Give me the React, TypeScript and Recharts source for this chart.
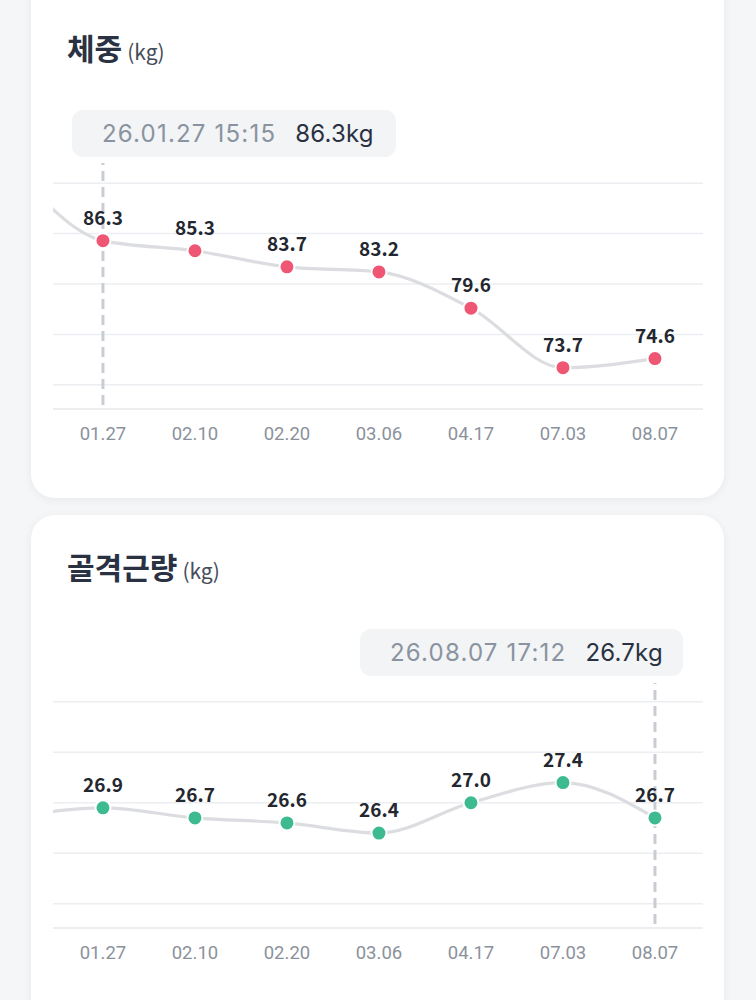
import React from 'react';
import { LineChart, Line, XAxis, YAxis, CartesianGrid, ReferenceLine, LabelList } from 'recharts';

const dates = ['01.27', '02.10', '02.20', '03.06', '04.17', '07.03', '08.07'];

const weightValues = [86.3, 85.3, 83.7, 83.2, 79.6, 73.7, 74.6];
const weightPrevious = 93.9; // earlier measurement, scrolled out of view
const weightTicks = [72, 77, 82, 87, 92];
const weightDomain: [number, number] = [69.6, 94.3];

const muscleValues = [26.9, 26.7, 26.6, 26.4, 27.0, 27.4, 26.7];
const musclePrevious = 26.7;
const muscleTicks = [25, 26, 27, 28, 29];
const muscleDomain: [number, number] = [24.52, 29.43];

const FONT = '"Noto Sans CJK KR", "Noto Sans", sans-serif';
const TIP_FONT = 'Inter, Roboto, "Noto Sans", sans-serif';
const TICK_FONT = 'Roboto, "Noto Sans", sans-serif';

const CHART_H = 460;
const PLOT_TOP = 160;
const X_AXIS_H = 30;

function buildData(prev: number, values: number[]) {
  return [{ i: -1, v: prev }, ...values.map((v, i) => ({ i, v }))];
}

const makeDot = (color: string) => (props: any) => {
  const { cx, cy, payload, index } = props;
  if (!payload || payload.i < 0) return <g key={`d${index}`} />;
  return <circle key={`d${index}`} cx={cx} cy={cy} r={7.5} fill={color} stroke="#ffffff" strokeWidth={2} />;
};

const makeLabel = (data: { i: number; v: number }[]) => (props: any) => {
  const { x, y, index } = props;
  const d = data[index];
  if (!d || d.i < 0) return null;
  return (
    <text
      key={`l${index}`}
      x={x}
      y={y - 16}
      textAnchor="middle"
      fontFamily={FONT}
      fontWeight={700}
      fontSize={19}
      fill="#23272f"
    >
      {d.v.toFixed(1)}
    </text>
  );
};

interface ChartProps {
  data: { i: number; v: number }[];
  color: string;
  ticks: number[];
  domain: [number, number];
  cursorIndex: number;
  top: number;
  bottomMargin: number;
}

function TrendChart({ data, color, ticks, domain, cursorIndex, top, bottomMargin }: ChartProps) {
  const span = domain[1] - domain[0];
  const plotH = CHART_H - PLOT_TOP - bottomMargin - X_AXIS_H;
  const gridYs = ticks.map((t) => PLOT_TOP + plotH * (1 - (t - domain[0]) / span));
  return (
    <div style={{ position: 'absolute', left: 0, top, width: 756, height: CHART_H }}>
      <LineChart width={756} height={CHART_H} data={data} margin={{ top: PLOT_TOP, right: 53, bottom: bottomMargin, left: 53 }}>
        <CartesianGrid
          vertical={false}
          stroke="#eceef1"
          strokeWidth={1.5}
          horizontalPoints={gridYs}
        />
        <XAxis
          dataKey="i"
          type="number"
          domain={[-0.543, 6.522]}
          allowDataOverflow
          ticks={[0, 1, 2, 3, 4, 5, 6]}
          tickFormatter={(v: number) => dates[v] ?? ''}
          axisLine={{ stroke: '#e6e8eb', strokeWidth: 1.5 }}
          tickLine={false}
          tickMargin={12}
          height={X_AXIS_H}
          tick={{ fill: '#8b919b', fontSize: 18.5, fontFamily: TICK_FONT }}
        />
        <YAxis hide width={0} domain={domain} ticks={ticks} allowDataOverflow type="number" />
        <ReferenceLine
          segment={[
            { x: cursorIndex, y: domain[0] + span * 0.016 },
            { x: cursorIndex, y: domain[1] - span * 0.012 },
          ]}
          stroke="#c9cdd3"
          strokeWidth={3}
          strokeDasharray="10 6"
          ifOverflow="visible"
        />
        <Line
          type="monotone"
          dataKey="v"
          stroke="#dcdde1"
          strokeWidth={3.2}
          dot={makeDot(color)}
          activeDot={false}
          isAnimationActive={false}
        >
          <LabelList dataKey="v" content={makeLabel(data)} />
        </Line>
      </LineChart>
    </div>
  );
}

function Title({ top, main }: { top: number; main: string }) {
  return (
    <div style={{ position: 'absolute', left: 67, top, fontFamily: FONT, color: '#2a3142', whiteSpace: 'nowrap' }}>
      <span style={{ fontSize: 30, fontWeight: 700 }}>{main}</span>
      <span style={{ fontSize: 21, fontWeight: 400, color: '#454c5a', marginLeft: 5 }}>(kg)</span>
    </div>
  );
}

function TipBox({ left, top, width, time, value }: { left: number; top: number; width: number; time: string; value: string }) {
  return (
    <div
      style={{
        position: 'absolute',
        left,
        top,
        width,
        height: 47,
        borderRadius: 11,
        background: '#f2f4f6',
        fontFamily: TIP_FONT,
        fontSize: 24,
        lineHeight: '47px',
        boxSizing: 'border-box',
        paddingLeft: 30,
        whiteSpace: 'nowrap',
      }}
    >
      <span style={{ color: '#8a93a0', letterSpacing: 1.2 }}>{time}</span>
      <span style={{ color: '#2a3142', marginLeft: 19, letterSpacing: 0.2 }}>{value}</span>
    </div>
  );
}

export default function App() {
  const weightData = buildData(weightPrevious, weightValues);
  const muscleData = buildData(musclePrevious, muscleValues);
  return (
    <div style={{ position: 'absolute', left: 0, top: 0, width: 756, height: 1000, background: '#f5f6f8', overflow: 'hidden' }}>
      <div
        style={{
          position: 'absolute',
          left: 31,
          top: -40,
          width: 693,
          height: 538,
          background: '#ffffff',
          borderRadius: 24,
          boxShadow: '0 2px 10px rgba(20,30,50,0.06)',
        }}
      />
      <div
        style={{
          position: 'absolute',
          left: 31,
          top: 515,
          width: 693,
          height: 540,
          background: '#ffffff',
          borderRadius: 24,
          boxShadow: '0 2px 10px rgba(20,30,50,0.06)',
        }}
      />
      <Title top={25} main="체중" />
      <TipBox left={72} top={110} width={324} time="26.01.27 15:15" value="86.3kg" />
      <TrendChart
        data={weightData}
        color="#ee5673"
        ticks={weightTicks}
        domain={weightDomain}
        cursorIndex={0}
        top={0}
        bottomMargin={21}
      />
      <Title top={544} main="골격근량" />
      <TipBox left={360} top={629} width={323} time="26.08.07 17:12" value="26.7kg" />
      <TrendChart
        data={muscleData}
        color="#3dba8f"
        ticks={muscleTicks}
        domain={muscleDomain}
        cursorIndex={6}
        top={520}
        bottomMargin={22}
      />
    </div>
  );
}
